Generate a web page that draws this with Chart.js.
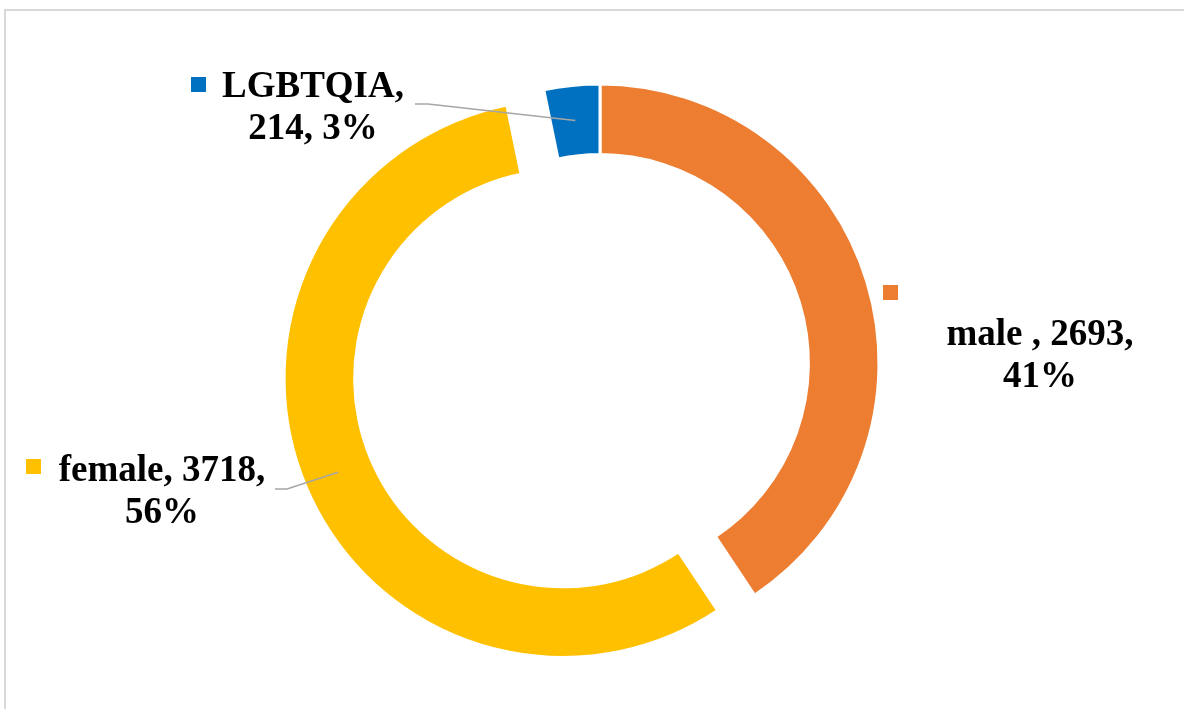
<!DOCTYPE html>
<html>
<head>
<meta charset="utf-8">
<script src="https://cdn.jsdelivr.net/npm/chart.js@4.4.0/dist/chart.umd.min.js"></script>
<style>
  html, body { margin: 0; padding: 0; background: #fff; overflow: hidden; }
  #wrap { position: relative; width: 1184px; height: 709px; }
  #frame { position: absolute; left: 4px; top: 9px; width: 1200px; height: 720px; border: 2px solid #d9d9d9; box-sizing: border-box; }
  #chart { position: absolute; left: 0; top: 0; }
</style>
</head>
<body>
<div id="wrap">
  <div id="frame"></div>
  <canvas id="chart" width="1184" height="709"></canvas>
</div>
<script>
// data
const categories = ["male ", "female", "LGBTQIA"]
const counts = [2693, 3718, 214]
const colors = ["#ED7D31", "#FFC000", "#0070C0"]
// how far each slice is pulled out of the ring, in px
const explode = [0, 40, 0]

// where each data label sits, relative to the doughnut centre
// parts: how many comma parts go on the first line
const labelLayout = [
  { dx: 440, dy: -18, mx: 283, my: -78, parts: 2, leader: null },
  { dx: -438, dy: 118, mx: -574, my: 96, parts: 2, leader: [-325, 126, -313, 126] },
  { dx: -287, dy: -266, mx: -409, my: -286, parts: 1, leader: [-185, -259, -172, -259] },
]

const total = counts.reduce((a, b) => a + b, 0)

function pullOut(arc, i) {
  const half = (arc.startAngle + arc.endAngle) / 2
  return { x: Math.cos(half) * explode[i], y: Math.sin(half) * explode[i] }
}

// Chart.js' own offset also grows the radius, so shift the slice instead
const explodePlugin = {
  id: "explodeSlices",
  afterUpdate(chart) {
    chart.getDatasetMeta(0).data.forEach((arc, i) => {
      if (!explode[i] || arc._pulled) return
      const draw = arc.draw
      arc.draw = function (ctx) {
        const d = pullOut(this, i)
        ctx.save()
        ctx.translate(d.x, d.y)
        draw.call(this, ctx)
        ctx.restore()
      }
      arc._pulled = true
    })
  },
}

const labelPlugin = {
  id: "sliceLabels",
  afterDraw(chart) {
    const ctx = chart.ctx
    const meta = chart.getDatasetMeta(0)
    ctx.save()
    meta.data.forEach((arc, i) => {
      const lay = labelLayout[i]
      const cx = arc.x
      const cy = arc.y
      const pct = Math.round(counts[i] / total * 100)
      const parts = [categories[i], String(counts[i]), pct + "%"]
      const line1 = parts.slice(0, lay.parts).join(", ") + ","
      const line2 = parts.slice(lay.parts).join(", ")

      // leader line to the middle of the ring
      if (lay.leader) {
        const p = arc.getCenterPoint()
        const d = pullOut(arc, i)
        ctx.strokeStyle = "#a6a6a6"
        ctx.lineWidth = 1.5
        ctx.beginPath()
        ctx.moveTo(cx + lay.leader[0], cy + lay.leader[1])
        ctx.lineTo(cx + lay.leader[2], cy + lay.leader[3])
        ctx.lineTo(p.x + d.x, p.y + d.y)
        ctx.stroke()
      }

      // legend key square
      ctx.fillStyle = colors[i]
      ctx.fillRect(cx + lay.mx, cy + lay.my, 15, 15)

      ctx.fillStyle = "#000"
      ctx.font = "bold 37px 'Liberation Serif', 'Times New Roman', serif"
      ctx.textAlign = "center"
      ctx.textBaseline = "alphabetic"
      ctx.fillText(line1, cx + lay.dx, cy + lay.dy)
      ctx.fillText(line2, cx + lay.dx, cy + lay.dy + 42)
    })
    ctx.restore()
  },
}

new Chart(document.getElementById("chart"), {
  type: "doughnut",
  data: {
    labels: categories,
    datasets: [
      {
        data: counts,
        backgroundColor: colors,
        borderColor: "#ffffff",
        borderWidth: 3,
      },
    ],
  },
  options: {
    responsive: false,
    animation: false,
    radius: 279,
    cutout: "74.7%",
    layout: {
      padding: { left: 16, top: 17, right: 0, bottom: 0 },
    },
    plugins: {
      legend: { display: false },
      tooltip: { enabled: false },
    },
  },
  plugins: [explodePlugin, labelPlugin],
})
</script>
</body>
</html>
